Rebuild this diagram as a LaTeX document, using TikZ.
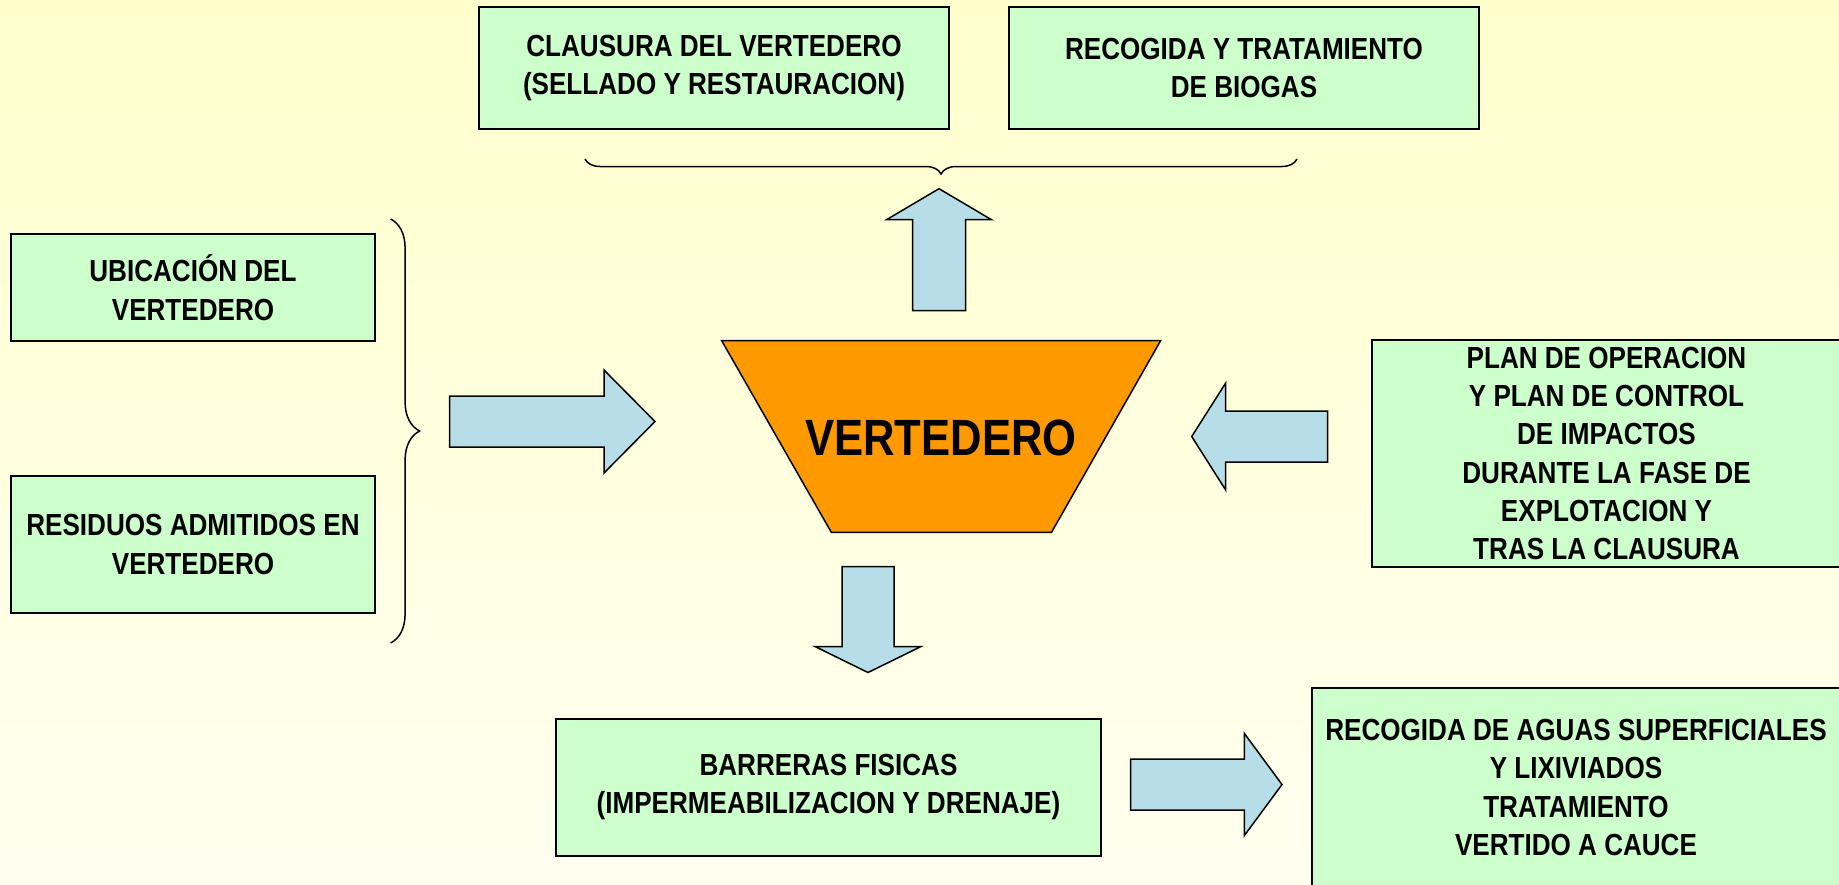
\documentclass[tikz,border=0pt]{standalone}
\usepackage{fontspec}
\setmainfont{Liberation Sans}[FakeStretch=0.855]
\usetikzlibrary{decorations.pathreplacing}

\begin{document}
\begin{tikzpicture}[x=1pt, y=-1pt]
	\definecolor{bgtop}{RGB}{255, 255, 204}
	\definecolor{bgbottom}{RGB}{255, 255, 240}
	\definecolor{boxcolor}{RGB}{204, 255, 204}
	\definecolor{arrowcolor}{RGB}{183, 222, 232}
	\definecolor{dumpcolor}{RGB}{255, 153, 0}

	\tikzset{
		box/.style={draw, line width=2pt, fill=boxcolor, align=center, inner sep=0pt,
			font=\fontsize{30.5}{38.3}\selectfont\bfseries},
		brace/.style={decorate, decoration={brace, amplitude=#1}, line width=1.5pt}
	}

	% \blockarrow#x#y#angle#length#shaft#head#headlength
	\def\blockarrow#1#2#3#4#5#6#7{
		\begin{scope}[shift={(#1, #2)}, rotate=#3]
			\filldraw[fill=arrowcolor, line width=1.5pt] (0, -#5) -- (#4 - #7, -#5) -- (#4 - #7, -#6)
				-- (#4, 0) -- (#4 - #7, #6) -- (#4 - #7, #5) -- (0, #5) -- cycle;
		\end{scope}
	}

	% background
	\useasboundingbox (0, 0) rectangle (1839, 884);
	\shade[top color=bgtop, bottom color=bgbottom] (0, 0) rectangle (1839, 884);

	% landfill
	\filldraw[fill=dumpcolor, line width=1.5pt] (721.7, 340.7) -- (1160.6, 340.7) -- (1051.5, 532.3) -- (831.3, 532.3) -- cycle;
	\node[font=\fontsize{51}{60}\selectfont\bfseries] (vertedero) at (941, 437.8) {VERTEDERO};

	% top
	\node[box, minimum width=470pt, minimum height=122pt] (clausura) at (714, 68)
		{CLAUSURA DEL VERTEDERO\\(SELLADO Y RESTAURACION)};
	\node[box, minimum width=470pt, minimum height=122pt] (biogas) at (1244, 68)
		{RECOGIDA Y TRATAMIENTO\\DE BIOGAS};
	\draw[brace=15pt] (1297, 159) -- (585, 159);
	\blockarrow{939}{310.7}{90}{122}{26.5}{52.5}{31}

	% left
	\node[box, minimum width=364pt, minimum height=107pt] (ubicacion) at (193, 287.5)
		{UBICACIÓN DEL\\VERTEDERO};
	\node[box, minimum width=364pt, minimum height=137pt] (residuos) at (193, 544.5)
		{RESIDUOS ADMITIDOS EN\\VERTEDERO};
	\draw[brace=29pt] (390.6, 219) -- (390.6, 643);
	\blockarrow{449.6}{421.5}{0}{205.4}{25.5}{51.5}{51}

	% right
	\node[box, minimum width=469pt, minimum height=227pt] (plan) at (1606.5, 453.5)
		{PLAN DE OPERACION\\Y PLAN DE CONTROL\\DE IMPACTOS\\DURANTE LA FASE DE\\EXPLOTACION Y\\TRAS LA CLAUSURA};
	\blockarrow{1327.7}{436.5}{180}{136}{25.5}{53.5}{34}

	% bottom
	\blockarrow{868}{566.5}{270}{106}{26}{53}{26}
	\node[box, minimum width=545pt, minimum height=137pt] (barreras) at (828.5, 787)
		{BARRERAS FISICAS\\(IMPERMEABILIZACION Y DRENAJE)};
	\blockarrow{1130.6}{784.5}{0}{151.4}{25.5}{51}{37.6}
	\node[box, minimum width=528pt, minimum height=199pt] (aguas) at (1576, 787.5)
		{RECOGIDA DE AGUAS SUPERFICIALES\\Y LIXIVIADOS\\TRATAMIENTO\\VERTIDO A CAUCE};
\end{tikzpicture}
\end{document}
